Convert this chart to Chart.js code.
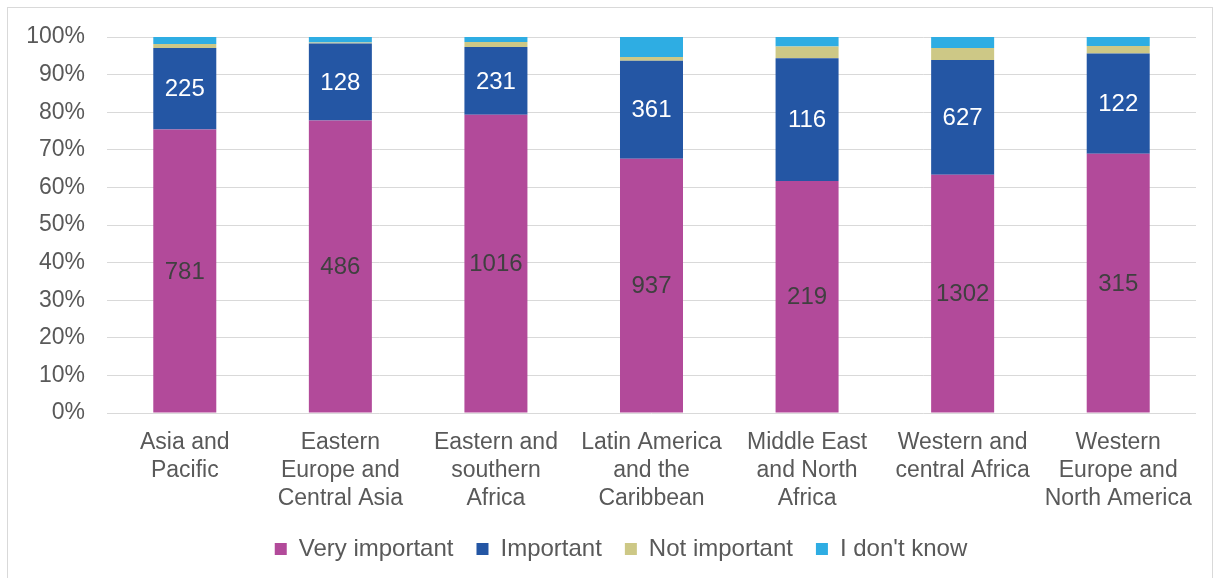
<!DOCTYPE html>
<html>
<head>
<meta charset="utf-8">
<script src="https://cdn.jsdelivr.net/npm/chart.js@4"></script>
<style>
  body { margin: 0; background: #fff; }
  #wrap { position: absolute; left: 7px; top: 7px; width: 1204px; height: 590px; border: 1px solid #d9d9d9; }
</style>
</head>
<body>
<div id="wrap"><canvas id="regionChart" width="1204" height="577"></canvas></div>
<script>
const regions = [
  ['Asia and', 'Pacific'],
  ['Eastern', 'Europe and', 'Central Asia'],
  ['Eastern and', 'southern', 'Africa'],
  ['Latin America', 'and the', 'Caribbean'],
  ['Middle East', 'and North', 'Africa'],
  ['Western and', 'central Africa'],
  ['Western', 'Europe and', 'North America']
];

// response counts per region
const veryImportant = [781, 486, 1016, 937, 219, 1302, 315];
const important = [225, 128, 231, 361, 116, 627, 122];
const notImportant = [11, 2, 17, 14, 11, 66, 9];
const dontKnow = [19, 9, 17, 74, 9, 60, 11];

const yTicks = [0, 10, 20, 30, 40, 50, 60, 70, 80, 90, 100];

const totals = regions.map((r, i) => veryImportant[i] + important[i] + notImportant[i] + dontKnow[i]);
const pct = arr => arr.map((v, i) => v / totals[i] * 100);

const FONT = 'Liberation Sans, Arial, sans-serif';
const TEXT = '#595959';
const SIZE = 23;

const series = [
  { label: 'Very important', counts: veryImportant, color: '#B24A9A', labelColor: '#404040' },
  { label: 'Important', counts: important, color: '#2456A4', labelColor: '#ffffff' },
  { label: 'Not important', counts: notImportant, color: '#CDC886' },
  { label: "I don't know", counts: dontKnow, color: '#2EADE3' }
];

// count labels in the middle of the first two segments
const countLabels = {
  id: 'countLabels',
  afterDatasetsDraw(chart) {
    const ctx = chart.ctx;
    ctx.save();
    ctx.font = '24px ' + FONT;
    ctx.textAlign = 'center';
    ctx.textBaseline = 'middle';
    chart.data.datasets.forEach((ds, di) => {
      if (!ds.labelColor) return;
      ctx.fillStyle = ds.labelColor;
      chart.getDatasetMeta(di).data.forEach((bar, i) => {
        ctx.fillText(String(ds.counts[i]), bar.x, (bar.y + bar.base) / 2 + 1);
      });
    });
    ctx.restore();
  }
};

// nudge the legend a little to the right of the canvas centre
const legendShift = {
  id: 'legendShift',
  afterLayout(chart) {
    chart.legend.left += 19;
    chart.legend.right += 19;
  }
};

new Chart(document.getElementById('regionChart'), {
  type: 'bar',
  data: {
    labels: regions,
    datasets: series.map(s => ({
      label: s.label,
      data: pct(s.counts),
      counts: s.counts,
      labelColor: s.labelColor,
      backgroundColor: s.color,
      borderWidth: 0,
      barPercentage: 0.405,
      categoryPercentage: 1
    }))
  },
  options: {
    responsive: false,
    animation: false,
    layout: { padding: { top: 29, right: 16, left: 0, bottom: 14 } },
    scales: {
      x: {
        stacked: true,
        afterFit: s => { s.height = 101; },
        grid: { display: false },
        border: { display: false },
        ticks: { color: TEXT, font: { family: FONT, size: SIZE, lineHeight: 1.22 }, padding: 8, maxRotation: 0, autoSkip: false }
      },
      y: {
        stacked: true,
        min: 0,
        max: 100,
        afterFit: s => { s.width = 99; s.paddingTop = 0; s.paddingBottom = 0; },
        afterBuildTicks: s => { s.ticks = yTicks.map(v => ({ value: v })); },
        grid: { color: '#d9d9d9', lineWidth: 1, drawTicks: false },
        border: { display: false },
        ticks: { color: TEXT, font: { family: FONT, size: SIZE }, padding: 22, callback: v => v + '%' }
      }
    },
    plugins: {
      legend: {
        position: 'bottom',
        labels: { color: TEXT, font: { family: FONT, size: 24 }, boxWidth: 12, boxHeight: 12, padding: 23 }
      },
      tooltip: { enabled: false }
    }
  },
  plugins: [countLabels, legendShift]
});
</script>
</body>
</html>
